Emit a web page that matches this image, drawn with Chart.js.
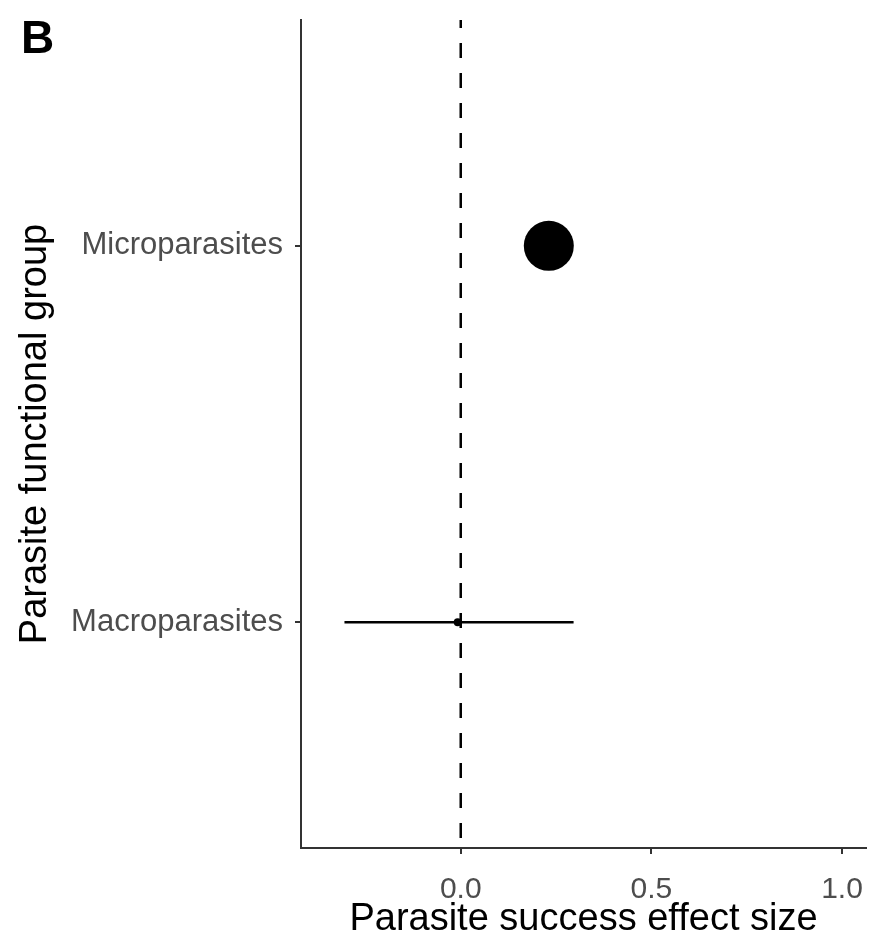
<!DOCTYPE html>
<html>
<head>
<meta charset="utf-8">
<script src="https://cdn.jsdelivr.net/npm/chart.js@4"></script>
<style>
html, body { margin: 0; padding: 0; background: #fff; overflow: hidden; }
canvas { display: block; }
</style>
</head>
<body>
<canvas id="chartB" width="870" height="945"></canvas>
<script>
// effect sizes per parasite group
let groups = ['Microparasites', 'Macroparasites'];
let effect = [0.231, -0.008];
let ciLow = [0.208, -0.305];
let ciHigh = [0.254, 0.296];
let xTicks = [0, 0.5, 1.0];
let refLine = 0;

Chart.defaults.font.family = '"Liberation Sans", Arial, sans-serif';

let canvasB = document.getElementById('chartB');

// horizontal error bars, one line per group
let errorBars = groups.map(function(g, i){
    return {
        data: [{x: ciLow[i], y: i + 1}, {x: ciHigh[i], y: i + 1}],
        showLine: true,
        borderColor: '#000',
        borderWidth: 2.5,
        pointRadius: 0,
        order: 2
    };
});

let panelLabel = {
    id: 'panelLabel',
    afterDraw: function(chart){
        let ctx = chart.ctx;
        ctx.save();
        ctx.font = 'bold 46px "Liberation Sans", Arial, sans-serif';
        ctx.fillStyle = '#000';
        ctx.textBaseline = 'alphabetic';
        ctx.fillText('B', 21, 53);
        ctx.restore();
    }
};

let chart = new Chart(canvasB, {
    type: 'scatter',
    data: {
        datasets: [
            {
                data: groups.map(function(g, i){ return {x: effect[i], y: i + 1}; }),
                pointRadius: [25, 4],
                pointBackgroundColor: '#000',
                pointBorderWidth: 0,
                order: 0
            },
            ...errorBars,
            {
                data: [{x: refLine, y: 0.4}, {x: refLine, y: 2.6}],
                showLine: true,
                borderColor: '#000',
                borderWidth: 2.5,
                borderDash: [15, 15],
                borderDashOffset: 7,
                pointRadius: 0,
                order: 3
            }
        ]
    },
    options: {
        responsive: false,
        animation: false,
        layout: { autoPadding: false, padding: { top: 20, right: 4, left: 0, bottom: 0 } },
        plugins: {
            legend: { display: false },
            tooltip: { enabled: false }
        },
        scales: {
            x: {
                type: 'linear',
                min: -0.419,
                max: 1.063,
                afterBuildTicks: function(axis){
                    axis.ticks = xTicks.map(function(v){ return {value: v}; });
                },
                afterFit: function(axis){
                    axis.height = 97;
                    axis.paddingLeft = 0;
                    axis.paddingRight = 0;
                },
                ticks: {
                    color: '#4d4d4d',
                    font: { size: 30 },
                    padding: 18,
                    maxRotation: 0,
                    callback: function(v){ return Number(v).toFixed(1); }
                },
                grid: { drawOnChartArea: false, drawTicks: true, tickLength: 6, color: '#333', lineWidth: 2 },
                border: { color: '#333', width: 2 },
                title: {
                    display: true,
                    text: 'Parasite success effect size',
                    color: '#000',
                    font: { size: 38 },
                    padding: { top: 0, bottom: 3 }
                }
            },
            y: {
                type: 'linear',
                reverse: true,
                min: 0.4,
                max: 2.6,
                afterBuildTicks: function(axis){
                    axis.ticks = groups.map(function(g, i){ return {value: i + 1}; });
                },
                afterFit: function(axis){
                    axis.width = 301;
                    axis.paddingTop = 0;
                    axis.paddingBottom = 0;
                },
                ticks: {
                    color: '#4d4d4d',
                    font: { size: 31 },
                    padding: 12,
                    callback: function(v){ return groups[v - 1]; }
                },
                grid: { drawOnChartArea: false, drawTicks: true, tickLength: 6, color: '#333', lineWidth: 2 },
                border: { color: '#333', width: 2 },
                title: {
                    display: true,
                    text: 'Parasite functional group',
                    color: '#000',
                    font: { size: 38 },
                    padding: { top: 13, bottom: 0 }
                }
            }
        }
    },
    plugins: [panelLabel]
});
</script>
</body>
</html>
